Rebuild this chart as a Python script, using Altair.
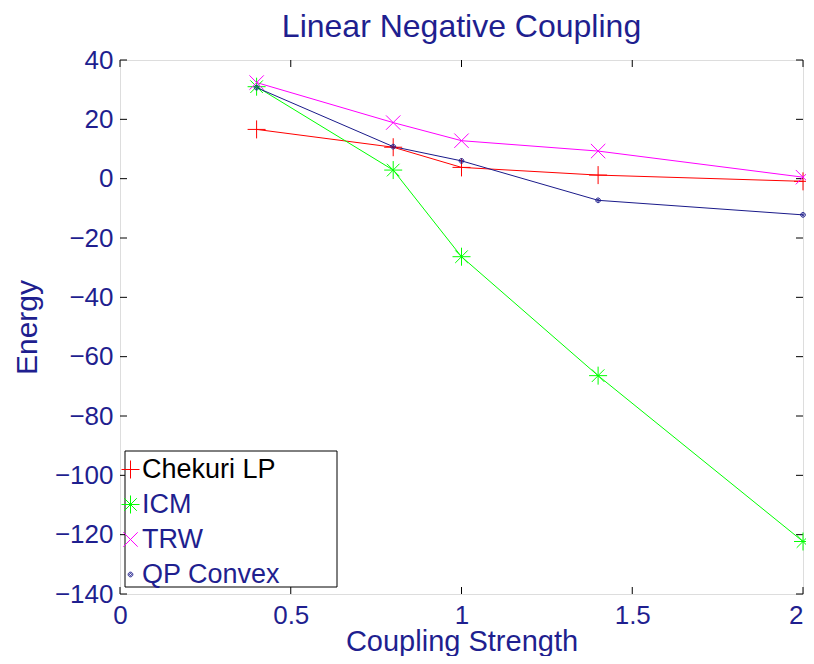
import altair as alt
import pandas as pd

# ---- data ----
coupling = [0.4, 0.8, 1.0, 1.4, 2.0]
series_names = ["Chekuri LP", "ICM", "TRW", "QP Convex"]
chekuri_lp = [16.6, 10.6, 3.8, 1.2, -0.9]
icm = [31.0, 2.9, -26.3, -66.4, -122.3]
trw = [32.4, 18.9, 12.8, 9.3, 0.5]
qp_convex = [30.7, 10.8, 6.0, -7.3, -12.2]
x_ticks = [0, 0.5, 1, 1.5, 2]
y_ticks = [-140, -120, -100, -80, -60, -40, -20, 0, 20, 40]

NAVY = "#1f1f8f"
FONT = "Liberation Sans"
colors = ["#ff0000", "#00ff00", "#ff00ff", "#1a1a8a"]
shapes = [
    "M-1,0H1M0,-1V1",                                            # plus
    "M-1,0H1M0,-1V1M-0.7,-0.7L0.7,0.7M-0.7,0.7L0.7,-0.7",        # asterisk
    "M-0.8,-0.8L0.8,0.8M-0.8,0.8L0.8,-0.8",                      # x
    "M-0.26,0A0.26,0.26 0 1,0 0.26,0A0.26,0.26 0 1,0 -0.26,0"
    "M-0.12,0A0.12,0.12 0 1,0 0.12,0A0.12,0.12 0 1,0 -0.12,0",  # dot
]

rows = []
for name, vals in zip(series_names, [chekuri_lp, icm, trw, qp_convex]):
    for xv, yv in zip(coupling, vals):
        rows.append({"Series": name, "x": xv, "y": yv})
df = pd.DataFrame(rows)

W, H = 683, 534

xs = alt.Scale(domain=[0, 2], nice=False, zero=False)
ys = alt.Scale(domain=[-140, 40], nice=False, zero=False)

x_enc = alt.X("x:Q", scale=xs, title="Coupling Strength",
              axis=alt.Axis(values=x_ticks, labelExpr="format(datum.value, '')",
                            ticks=False, domain=False, grid=False,
                            labelAlign={"condition": {"test": "datum.value == 2", "value": "right"},
                                        "value": "center"},
                            labelFontSize=26, labelPadding=8, labelColor=NAVY, labelFont=FONT,
                            titleFontSize=29, titleFontWeight="normal", titleColor=NAVY,
                            titleFont=FONT, titlePadding=-1, labelFlush=False))
y_enc = alt.Y("y:Q", scale=ys, title="Energy",
              axis=alt.Axis(values=y_ticks, labelExpr="replace(format(datum.value, 'd'), '-', '\u2212')",
                            ticks=False, domain=False, grid=False,
                            labelFontSize=26, labelPadding=7, labelColor=NAVY, labelFont=FONT,
                            titleFontSize=30, titleFontWeight="normal", titleColor=NAVY,
                            titleFont=FONT, titlePadding=12, labelFlush=False))

leg = alt.Legend(orient="none", legendX=-3, legendY=396, title=None,
                 labelFontSize=27, labelFont=FONT,
                 labelColor={"expr": f"datum.label == 'Chekuri LP' ? 'black' : '{NAVY}'"},
                 symbolSize=324, symbolStrokeWidth=1,
                 labelOffset={"expr": "-2"}, rowPadding=7, padding=0,
                 symbolFillColor="transparent")
cscale = alt.Scale(domain=series_names, range=colors)
sscale = alt.Scale(domain=series_names, range=shapes)

lines = alt.Chart(df).mark_line(strokeWidth=1).encode(
    x=x_enc, y=y_enc,
    color=alt.Color("Series:N", scale=cscale, legend=leg),
)
points = alt.Chart(df).mark_point(filled=False, size=324, strokeWidth=1, opacity=1).encode(
    x="x:Q", y="y:Q",
    color=alt.Color("Series:N", scale=cscale, legend=leg),
    shape=alt.Shape("Series:N", scale=sscale, legend=leg),
)

legend_box = alt.Chart(pd.DataFrame({"a": [0]})).mark_rect(
    fill="white", stroke="black", strokeWidth=1
).encode(x=alt.value(5), x2=alt.value(217), y=alt.value(391), y2=alt.value(527))

xt = pd.DataFrame({"x": x_ticks})
yt = pd.DataFrame({"y": y_ticks})
tick_bottom = alt.Chart(xt).mark_rule(color="black", strokeWidth=1).encode(
    x="x:Q", y=alt.value(H), y2=alt.value(H - 7))
tick_top = alt.Chart(xt).mark_rule(color="black", strokeWidth=1).encode(
    x="x:Q", y=alt.value(0), y2=alt.value(7))
tick_left = alt.Chart(yt).mark_rule(color="black", strokeWidth=1).encode(
    y="y:Q", x=alt.value(0), x2=alt.value(7))
tick_right = alt.Chart(yt).mark_rule(color="black", strokeWidth=1).encode(
    y="y:Q", x=alt.value(W), x2=alt.value(W - 7))

chart = alt.layer(
    tick_bottom, tick_top, tick_left, tick_right, lines, points, legend_box
).properties(
    width=W, height=H,
    title=alt.TitleParams("Linear Negative Coupling", fontSize=32, fontWeight="normal",
                          color=NAVY, font=FONT, anchor="middle", offset=3),
    autosize=alt.AutoSizeParams(type="none"),
    padding={"left": 112, "top": 52, "right": 3, "bottom": 62},
).configure_view(stroke="black", strokeWidth=1).configure(background="white")

chart.save("out.html", embed_options={"renderer": "svg", "actions": False})
